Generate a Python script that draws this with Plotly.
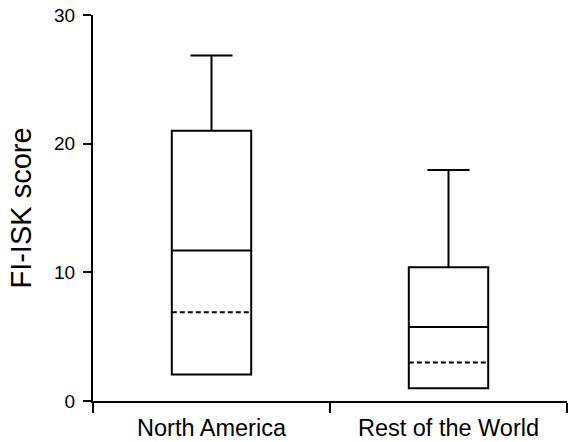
import plotly.graph_objects as go

categories = ["North America", "Rest of the World"]
q1_values = [2.05, 1.0]
median_values = [11.7, 5.75]
q3_values = [21.0, 10.4]
mean_values = [6.9, 3.0]
lower_fence = [2.05, 1.0]
upper_fence = [26.85, 17.95]
y_ticks = [0, 10, 20, 30]

FONT = "Liberation Sans, Arial, sans-serif"

fig = go.Figure()
fig.add_trace(go.Box(
    x=categories,
    q1=q1_values,
    median=median_values,
    q3=q3_values,
    mean=mean_values,
    lowerfence=lower_fence,
    upperfence=upper_fence,
    boxmean=True,
    width=0.335,
    whiskerwidth=0.53,
    line=dict(color="black", width=2),
    fillcolor="rgba(0,0,0,0)",
    boxpoints=False,
    showlegend=False,
))

fig.update_layout(
    width=568, height=442,
    margin=dict(l=93, r=1, t=15, b=41, autoexpand=False),
    paper_bgcolor="white", plot_bgcolor="white",
    font=dict(family=FONT, color="black"),
    xaxis=dict(
        type="category",
        range=[-0.5, 1.5],
        showline=True, linecolor="black", linewidth=2,
        ticks="outside", ticklen=10, tickwidth=2, tickcolor="black",
        tickson="boundaries",
        tickfont=dict(size=23.5, family=FONT, color="black"),
        ticklabelstandoff=5,
        showgrid=False, zeroline=False,
        automargin=False,
    ),
    yaxis=dict(
        range=[0, 30],
        tickvals=y_ticks,
        showline=True, linecolor="black", linewidth=2,
        ticks="outside", ticklen=8, tickwidth=2, tickcolor="black",
        tickfont=dict(size=19, family=FONT, color="black"),
        ticklabelstandoff=4,
        showgrid=False, zeroline=False,
        title=dict(text="FI-ISK score", font=dict(size=29, family=FONT, color="black"), standoff=14),
        automargin=False,
    ),
)

post = (
    "document.body.style.margin='0';"
    "document.querySelectorAll('path.mean').forEach(function(p){p.style.strokeDasharray='5px,3px';});"
)
fig.write_html("out.html", post_script=post, config={"displayModeBar": False, "staticPlot": True})
